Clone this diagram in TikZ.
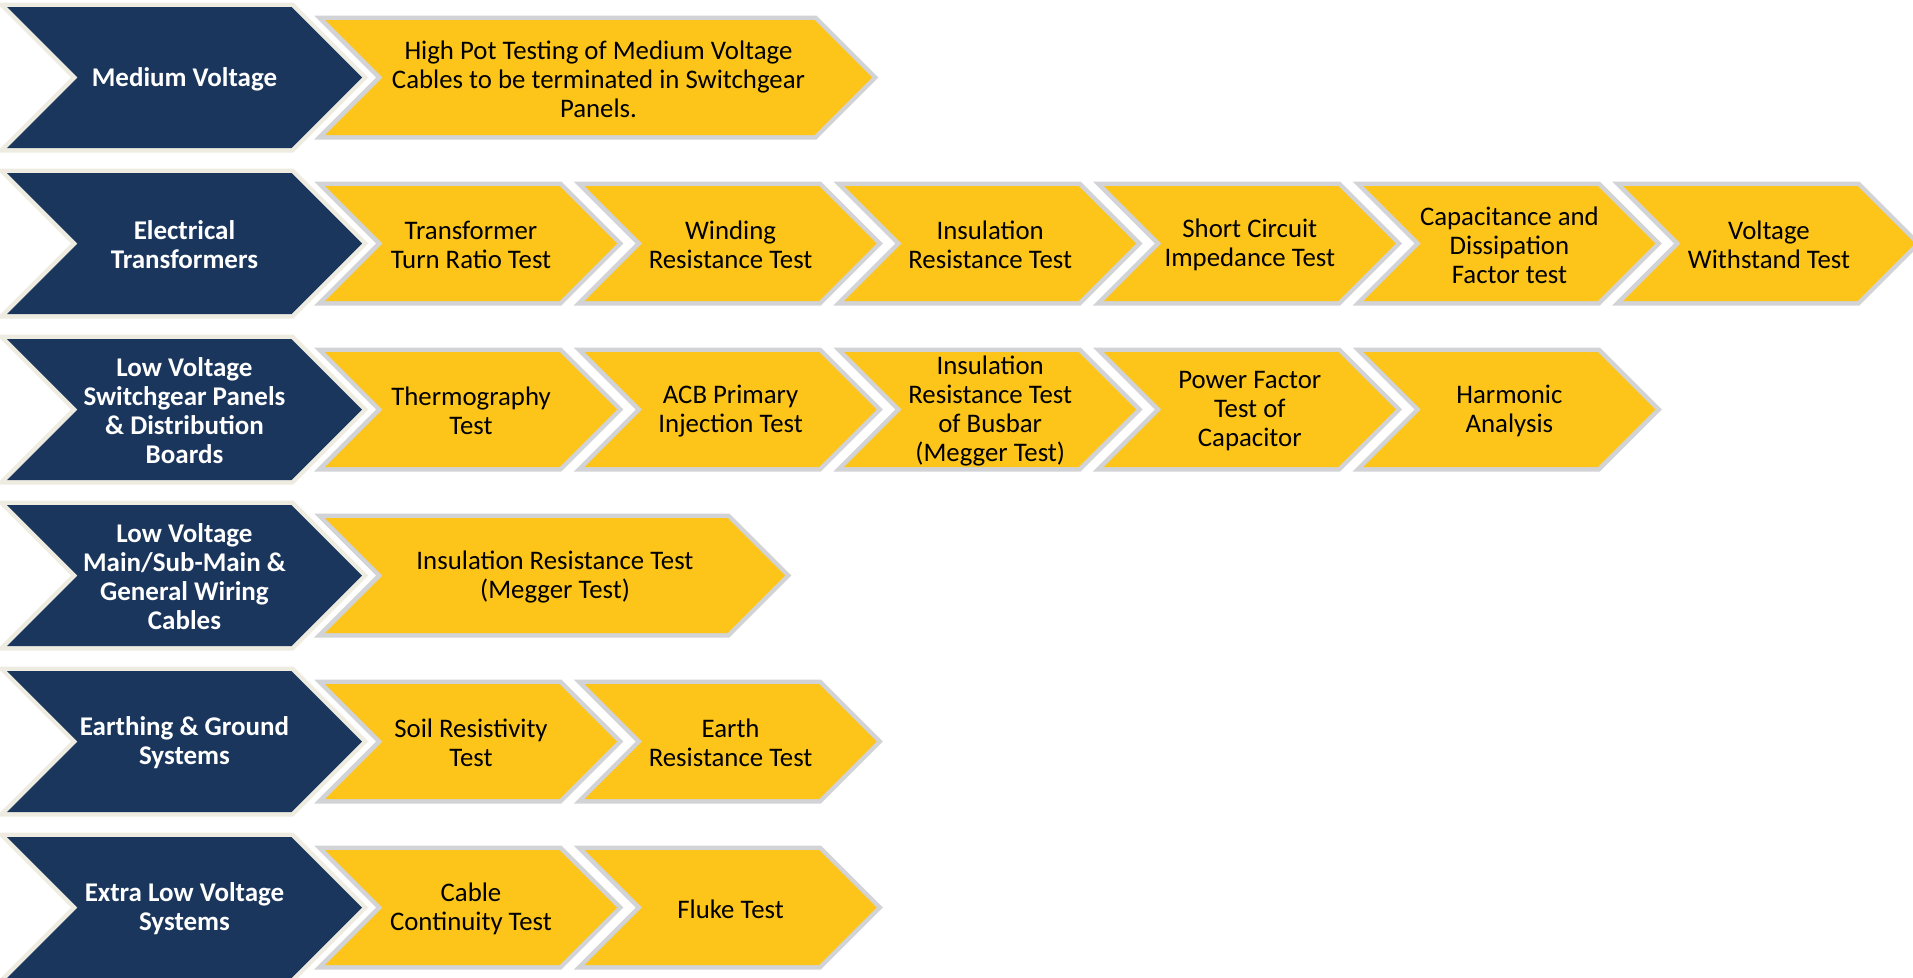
\documentclass[tikz,border=0pt]{standalone}
\usepackage{fontspec}
\setmainfont{Carlito}
\definecolor{navy}{HTML}{1A365D}
\definecolor{gold}{HTML}{FDC51A}
\definecolor{bgrey}{HTML}{D2D3D6}
\definecolor{beige}{HTML}{EEECE1}
\tikzset{
 catshape/.style={fill=navy, preaction={draw=beige, line width=9pt, line join=miter}},
 testshape/.style={fill=gold, preaction={draw=bgrey, line width=9pt, line join=miter}},
 cattext/.style={text=white, font=\fontsize{27}{29}\selectfont\bfseries, align=center},
 testtext/.style={text=black, font=\fontsize{26.8}{29}\selectfont, align=center},
}
\newcommand\chev[7]{%
 \path[#1shape] (#2,{#3-#5/2}) -- ({#2+#4-#5/2},{#3-#5/2}) -- ({#2+#4},#3) -- ({#2+#4-#5/2},{#3+#5/2}) -- (#2,{#3+#5/2}) -- ({#2+#5/2},#3) -- cycle;
 \node[#1text] (#6) at ({#2+#4/2},{#3+1.5}) {#7};
}
\begin{document}
\begin{tikzpicture}[x=1pt,y=-1pt]
\useasboundingbox (0,0) rectangle (1913,977);
% row 1
\chev{cat}{7}{77.5}{355}{141}{c1}{Medium Voltage}
\chev{test}{325}{77.5}{547}{115}{t11}{High Pot Testing of Medium Voltage\\Cables to be terminated in Switchgear\\Panels.}
% row 2
\chev{cat}{7}{243.5}{355}{141}{c2}{Electrical\\Transformers}
\chev{test}{325}{243.5}{292}{115}{t21}{Transformer\\Turn Ratio Test}
\chev{test}{584.6}{243.5}{292}{115}{t22}{Winding\\Resistance Test}
\chev{test}{844.2}{243.5}{292}{115}{t23}{Insulation\\Resistance Test}
\chev{test}{1103.8}{243.5}{292}{115}{t24}{Short Circuit\\Impedance Test}
\chev{test}{1363.4}{243.5}{292}{115}{t25}{Capacitance and\\Dissipation\\Factor test}
\chev{test}{1623}{243.5}{292}{115}{t26}{Voltage\\Withstand Test}
% row 3
\chev{cat}{7}{409.5}{355}{141}{c3}{Low Voltage\\Switchgear Panels\\\& Distribution\\Boards}
\chev{test}{325}{409.5}{292}{115}{t31}{Thermography\\Test}
\chev{test}{584.6}{409.5}{292}{115}{t32}{ACB Primary\\Injection Test}
\chev{test}{844.2}{409.5}{292}{115}{t33}{Insulation\\Resistance Test\\of Busbar\\(Megger Test)}
\chev{test}{1103.8}{409.5}{292}{115}{t34}{Power Factor\\Test of\\Capacitor}
\chev{test}{1363.4}{409.5}{292}{115}{t35}{Harmonic\\Analysis}
% row 4
\chev{cat}{7}{575.5}{355}{141}{c4}{Low Voltage\\Main/Sub-Main \&\\General Wiring\\Cables}
\chev{test}{325}{575.5}{460}{115}{t41}{Insulation Resistance Test\\(Megger Test)}
% row 5
\chev{cat}{7}{741.5}{355}{141}{c5}{Earthing \& Ground\\Systems}
\chev{test}{325}{741.5}{292}{115}{t51}{Soil Resistivity\\Test}
\chev{test}{584.6}{741.5}{292}{115}{t52}{Earth\\Resistance Test}
% row 6
\chev{cat}{7}{907.5}{355}{141}{c6}{Extra Low Voltage\\Systems}
\chev{test}{325}{907.5}{292}{115}{t61}{Cable\\Continuity Test}
\chev{test}{584.6}{907.5}{292}{115}{t62}{Fluke Test}
\end{tikzpicture}
\end{document}
